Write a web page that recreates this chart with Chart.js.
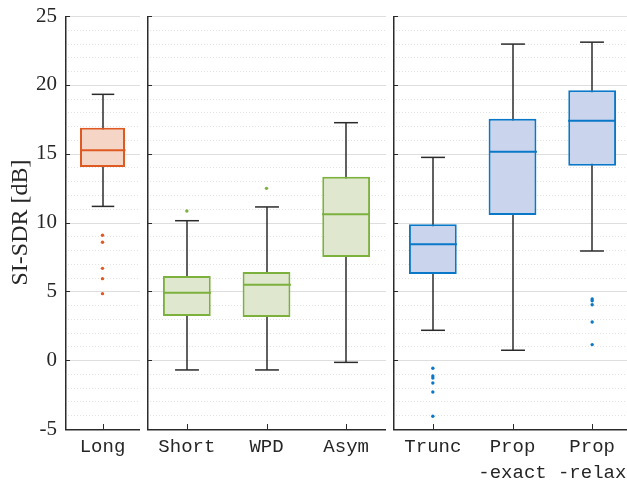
<!DOCTYPE html>
<html>
<head>
<meta charset="utf-8">
<script src="https://cdn.jsdelivr.net/npm/chart.js@4.4.0/dist/chart.umd.min.js"></script>
<style>
  html, body { margin: 0; padding: 0; background: #fff; overflow: hidden; width: 627px; height: 485px; }
  #wrap { position: relative; width: 627px; height: 485px; overflow: hidden; }
  #wrap canvas { position: absolute; top: 0; }
</style>
</head>
<body>
<div id="wrap">
  <canvas id="c1" width="140" height="485" style="left:0px"></canvas>
  <canvas id="c2" width="240" height="485" style="left:146px"></canvas>
  <canvas id="c3" width="240" height="485" style="left:392px"></canvas>
</div>
<script>
// ---- categories per panel ----
const longLabels = ['Long'];
const baseLabels = ['Short', 'WPD', 'Asym'];
const propLabels = ['Trunc', ['Prop', '-exact'], ['Prop', '-relax']];

// ---- box statistics (SI-SDR in dB) ----
const longWhiskerLow  = [11.17];
const longQ1          = [14.03];
const longMedian      = [15.24];
const longQ3          = [16.88];
const longWhiskerHigh = [19.31];
const longOutliers    = [[9.07, 8.56, 6.67, 5.92, 4.83]];

const baseWhiskerLow  = [-0.71, -0.71, -0.16];
const baseQ1          = [3.21, 3.14, 7.49];
const baseMedian      = [4.90, 5.48, 10.60];
const baseQ3          = [6.11, 6.41, 13.33];
const baseWhiskerHigh = [10.13, 11.13, 17.25];
const baseOutliers    = [[10.83], [12.48], []];

const propWhiskerLow  = [2.17, 0.72, 7.93];
const propQ1          = [6.26, 10.54, 14.12];
const propMedian      = [8.42, 15.14, 17.40];
const propQ3          = [9.87, 17.54, 19.60];
const propWhiskerHigh = [14.73, 22.96, 23.10];
const propOutliers    = [[-0.59, -1.15, -1.30, -1.66, -2.31, -4.07], [], [4.44, 4.32, 4.03, 2.77, 1.13]];

// ---- value axis ----
const yMin = -5;
const yMax = 25;
const yMajorStep = 5;
const yMinorStep = 1;

const AXIS_COLOR = '#2b2b2b';
const TEXT_COLOR = '#262626';

function makePanel(canvasId, labels, stats, edge, fill, showY) {
  // whiskers, caps, medians, grid and axes drawn from the chart's own scales
  const boxParts = {
    id: 'boxParts_' + canvasId,
    beforeDatasetsDraw(chart) {
      const { ctx, chartArea: a, scales: { x, y } } = chart;
      ctx.save();
      // grid: solid at major steps, dotted at minor steps
      for (let v = yMin; v <= yMax; v += yMinorStep) {
        const py = Math.round(y.getPixelForValue(v)) + 0.5;
        const major = (v - yMin) % yMajorStep === 0;
        ctx.beginPath();
        ctx.lineWidth = 1;
        ctx.strokeStyle = major ? '#dedede' : '#e2e2e2';
        ctx.setLineDash(major ? [] : [1, 2]);
        ctx.moveTo(a.left, py);
        ctx.lineTo(a.right, py);
        ctx.stroke();
      }
      ctx.setLineDash([]);
      // whisker stems (box covers the middle part)
      ctx.strokeStyle = AXIS_COLOR;
      ctx.lineWidth = 1.5;
      labels.forEach((_, i) => {
        const px = Math.round(x.getPixelForValue(i));
        ctx.beginPath();
        ctx.moveTo(px, y.getPixelForValue(stats.low[i]));
        ctx.lineTo(px, y.getPixelForValue(stats.high[i]));
        ctx.stroke();
      });
      ctx.restore();
    },
    afterDatasetsDraw(chart) {
      const { ctx, chartArea: a, scales: { x, y } } = chart;
      const meta = chart.getDatasetMeta(0);
      ctx.save();
      labels.forEach((_, i) => {
        const bar = meta.data[i];
        const px = Math.round(x.getPixelForValue(i));
        const half = bar.width / 2;
        // caps
        ctx.strokeStyle = AXIS_COLOR;
        ctx.lineWidth = 1.5;
        [stats.low[i], stats.high[i]].forEach(v => {
          const py = y.getPixelForValue(v);
          ctx.beginPath();
          ctx.moveTo(px - half / 2, py);
          ctx.lineTo(px + half / 2, py);
          ctx.stroke();
        });
        // median
        ctx.strokeStyle = edge;
        ctx.lineWidth = 2;
        const pm = y.getPixelForValue(stats.med[i]);
        ctx.beginPath();
        ctx.moveTo(px - half, pm);
        ctx.lineTo(px + half, pm);
        ctx.stroke();
      });
      // axes
      ctx.strokeStyle = AXIS_COLOR;
      ctx.lineWidth = 1.5;
      ctx.beginPath();
      ctx.moveTo(a.left + 0.75, a.top);
      ctx.lineTo(a.left + 0.75, a.bottom + 0.75);
      ctx.lineTo(a.right, a.bottom + 0.75);
      ctx.stroke();
      ctx.lineWidth = 1;
      for (let v = yMin; v <= yMax; v += yMajorStep) {
        const py = Math.round(y.getPixelForValue(v)) + 0.5;
        ctx.beginPath();
        ctx.moveTo(a.left, py);
        ctx.lineTo(a.left + 5, py);
        ctx.stroke();
      }
      labels.forEach((_, i) => {
        const px = Math.round(x.getPixelForValue(i)) + 0.5;
        ctx.beginPath();
        ctx.moveTo(px, a.bottom);
        ctx.lineTo(px, a.bottom - 5);
        ctx.stroke();
      });
      ctx.restore();
    }
  };

  const outlierPoints = [];
  stats.out.forEach((list, i) => list.forEach(v => outlierPoints.push({ x: labels[i], y: v })));

  return new Chart(document.getElementById(canvasId), {
    type: 'bar',
    data: {
      labels: labels,
      datasets: [
        {
          type: 'bar',
          data: labels.map((_, i) => [stats.q1[i], stats.q3[i]]),
          backgroundColor: fill,
          borderColor: edge,
          borderWidth: 2,
          borderSkipped: false,
          barPercentage: 0.6,
          categoryPercentage: 1
        },
        {
          type: 'line',
          data: outlierPoints,
          showLine: false,
          pointRadius: 1.7,
          pointBorderWidth: 0,
          pointBackgroundColor: edge
        }
      ]
    },
    options: {
      responsive: false,
      animation: false,
      events: [],
      layout: { autoPadding: false, padding: { top: 16, left: showY ? 0 : 1, right: 0, bottom: 0 } },
      plugins: { legend: { display: false }, tooltip: { enabled: false } },
      scales: {
        x: {
          type: 'category',
          offset: true,
          grid: { display: false, drawTicks: false },
          border: { display: false },
          ticks: {
            autoSkip: false,
            maxRotation: 0,
            padding: 5,
            color: TEXT_COLOR,
            font: { family: '"Liberation Mono", monospace', size: 19, lineHeight: 1.37 }
          },
          afterFit(s) { s.height = 56; s.paddingLeft = 0; s.paddingRight = 0; }
        },
        y: {
          display: showY,
          min: yMin,
          max: yMax,
          grid: { display: false, drawTicks: false },
          border: { display: false },
          ticks: {
            stepSize: yMajorStep,
            padding: 8,
            color: TEXT_COLOR,
            font: { family: '"Liberation Serif", serif', size: 21 }
          },
          title: {
            display: true,
            text: 'SI-SDR [dB]',
            color: TEXT_COLOR,
            font: { family: '"Liberation Serif", serif', size: 24 },
            padding: { top: 6, bottom: 0 }
          },
          afterFit(s) {
            if (showY) s.width = 65;
            s.paddingTop = 0;
            s.paddingBottom = 0;
          }
        }
      }
    },
    plugins: [boxParts]
  });
}

makePanel('c1', longLabels,
  { low: longWhiskerLow, q1: longQ1, med: longMedian, q3: longQ3, high: longWhiskerHigh, out: longOutliers },
  '#DF5A22', '#F5D6C6', true);
makePanel('c2', baseLabels,
  { low: baseWhiskerLow, q1: baseQ1, med: baseMedian, q3: baseQ3, high: baseWhiskerHigh, out: baseOutliers },
  '#7BB13C', '#DFE7CE', false);
makePanel('c3', propLabels,
  { low: propWhiskerLow, q1: propQ1, med: propMedian, q3: propQ3, high: propWhiskerHigh, out: propOutliers },
  '#0A78C8', '#CAD4EC', false);
</script>
</body>
</html>
